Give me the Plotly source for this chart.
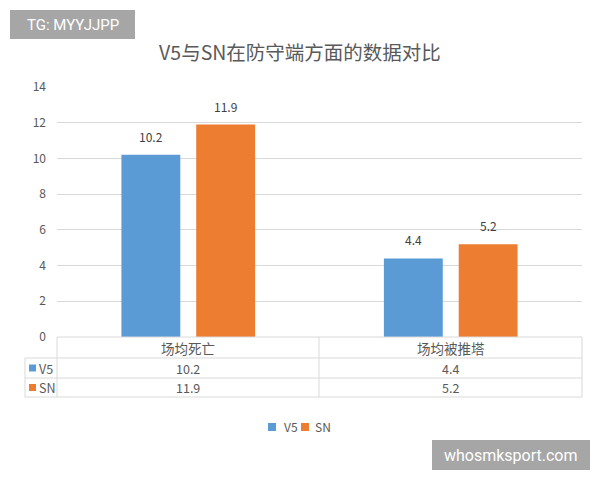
import plotly.graph_objects as go

categories = ["场均死亡", "场均被推塔"]
series_names = ["V5", "SN"]
v5_values = [10.2, 4.4]
sn_values = [11.9, 5.2]
series_values = [v5_values, sn_values]
colors = ["#5b9bd5", "#ed7d31"]
title_text = "V5与SN在防守端方面的数据对比"
y_ticks = [0, 2, 4, 6, 8, 10, 12, 14]

W, H = 600, 480
L, R, T, B = 57, 18, 87, 143
PW, PH = W - L - R, H - T - B
FONT = "Noto Sans CJK SC, Microsoft YaHei, sans-serif"
TXT = "#595959"
GRID = "#d9d9d9"


def px_x(px):
    return (px - L) / PW


def px_y(py):
    return (H - B - py) / PH


fig = go.Figure()
for name, vals, col in zip(series_names, series_values, colors):
    fig.add_trace(go.Bar(x=categories, y=vals, name=name, marker_color=col,
                         marker_line_width=0, showlegend=False))

# value labels above bars
offsets = [-37.5, 37.5]
for vals, off in zip(series_values, offsets):
    for c, v in zip(categories, vals):
        fig.add_annotation(x=c, y=v, xref="x", yref="y", text=f"{v}",
                           showarrow=False, xshift=off, yshift=8,
                           xanchor="center", yanchor="bottom",
                           font=dict(size=12, color="#404040", family=FONT))

shapes = []
line = dict(color=GRID, width=1)
# table lines
x_left_outer, x_inner, x_div, x_right = 25, 57, 319, 582
y_top, y_h, y_r1, y_bot = 337, 358, 378, 397
for py, x0 in [(y_top, x_inner), (y_h, x_left_outer), (y_r1, x_left_outer), (y_bot, x_left_outer)]:
    shapes.append(dict(type="line", xref="paper", yref="paper",
                       x0=px_x(x0), x1=px_x(x_right), y0=px_y(py), y1=px_y(py), line=line))
for px in [x_inner, x_div, x_right]:
    shapes.append(dict(type="line", xref="paper", yref="paper",
                       x0=px_x(px), x1=px_x(px), y0=px_y(y_top), y1=px_y(y_bot), line=line))
shapes.append(dict(type="line", xref="paper", yref="paper",
                   x0=px_x(x_left_outer), x1=px_x(x_left_outer), y0=px_y(y_h), y1=px_y(y_bot), line=line))

# header row
for c in categories:
    fig.add_annotation(x=c, xref="x", y=px_y((y_top + y_h) / 2), yref="paper",
                       text=c, showarrow=False, xanchor="center", yanchor="middle",
                       font=dict(size=13.5, color=TXT, family=FONT))
# data rows
row_centers = [(y_h + y_r1) / 2, (y_r1 + y_bot) / 2]
for name, vals, col, ry in zip(series_names, series_values, colors, row_centers):
    shapes.append(dict(type="rect", xref="paper", yref="paper",
                       x0=px_x(29), x1=px_x(36), y0=px_y(ry - 3.5), y1=px_y(ry + 3.5),
                       fillcolor=col, line=dict(width=0)))
    fig.add_annotation(x=px_x(37), xref="paper", y=px_y(ry), yref="paper",
                       text=name, showarrow=False, xanchor="left", yanchor="middle",
                       font=dict(size=12.5, color=TXT, family=FONT))
    for c, v in zip(categories, vals):
        fig.add_annotation(x=c, xref="x", y=px_y(ry), yref="paper",
                           text=f"{v}", showarrow=False, xanchor="center", yanchor="middle",
                           font=dict(size=12.5, color=TXT, family=FONT))

# custom legend (small squares as in the reference)
legend_items = [(268, 282), (301, 313)]
for name, col, (sx, tx) in zip(series_names, colors, legend_items):
    shapes.append(dict(type="rect", xref="paper", yref="paper",
                       x0=px_x(sx), x1=px_x(sx + 8), y0=px_y(423), y1=px_y(431),
                       fillcolor=col, line=dict(width=0)))
    fig.add_annotation(x=px_x(tx), xref="paper", y=px_y(427), yref="paper",
                       text=name, showarrow=False, xanchor="left", yanchor="middle",
                       font=dict(size=12, color=TXT, family=FONT))

# watermarks
shapes.append(dict(type="rect", xref="paper", yref="paper",
                   x0=px_x(10), x1=px_x(135), y0=px_y(10), y1=px_y(39),
                   fillcolor="#a6a6a6", line=dict(width=0), layer="below"))
fig.add_annotation(x=px_x(72.5), xref="paper", y=px_y(24.5), yref="paper",
                   text="TG: MYYJJPP", showarrow=False, xanchor="center", yanchor="middle",
                   font=dict(size=15, color="white", family="Roboto, Arial, sans-serif"))
shapes.append(dict(type="rect", xref="paper", yref="paper",
                   x0=px_x(432), x1=px_x(590), y0=px_y(440), y1=px_y(470),
                   fillcolor="#a6a6a6", line=dict(width=0), layer="below"))
fig.add_annotation(x=px_x(511), xref="paper", y=px_y(455), yref="paper",
                   text="whosmksport.com", showarrow=False, xanchor="center", yanchor="middle",
                   font=dict(size=16, color="white", family="Roboto, Arial, sans-serif"))

fig.update_layout(
    width=W, height=H,
    margin=dict(l=L, r=R, t=T, b=B),
    paper_bgcolor="white", plot_bgcolor="white",
    barmode="group", bargap=0.43, bargroupgap=0.213,
    title=dict(text=title_text, x=0.5, xanchor="center", y=1 - 53 / H, yanchor="middle",
               font=dict(size=19.5, color=TXT, family=FONT)),
    font=dict(family=FONT, color=TXT),
    showlegend=False,
    shapes=shapes,
    xaxis=dict(showticklabels=False, showline=False, showgrid=False, ticks=""),
    yaxis=dict(range=[0, 14], tickvals=y_ticks, showgrid=True, gridcolor=GRID,
               gridwidth=1, zeroline=False, showline=False, ticks="",
               tickfont=dict(size=12, color=TXT, family=FONT), ticklabelstandoff=10),
)

fig.write_html("out.html")
